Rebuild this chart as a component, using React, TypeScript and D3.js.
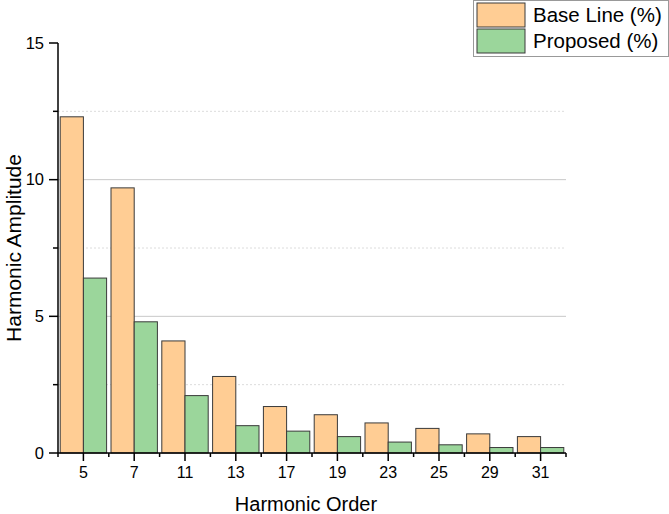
import { useEffect, useRef } from 'react';
import * as d3 from 'd3';

const orders = ['5', '7', '11', '13', '17', '19', '23', '25', '29', '31'];
const baseLine = [12.3, 9.7, 4.1, 2.8, 1.7, 1.4, 1.1, 0.9, 0.7, 0.6];
const proposed = [6.4, 4.8, 2.1, 1.0, 0.8, 0.6, 0.4, 0.3, 0.2, 0.2];
const seriesNames = ['Base Line (%)', 'Proposed (%)'];
const seriesColors = ['#ffcd94', '#9bd69b'];
const yMajor = [0, 5, 10, 15];
const yMinor = [2.5, 7.5, 12.5];

export default function App() {
  const svgRef = useRef<SVGSVGElement>(null);

  useEffect(() => {
    if (!svgRef.current) return;
    const svg = d3.select(svgRef.current);
    svg.selectAll('*').remove();

    const width = 669;
    const height = 514;
    const margin = { top: 43, right: 103, bottom: 61, left: 58 };
    const innerW = width - margin.left - margin.right;
    const innerH = height - margin.top - margin.bottom;
    const font = 'Arial, "Liberation Sans", sans-serif';

    const x = d3.scaleBand().domain(orders).range([0, innerW]).paddingInner(0).paddingOuter(0);
    const xs = d3.scaleBand().domain(seriesNames).range([0, x.bandwidth()]).paddingOuter(0.095).paddingInner(0);
    const y = d3.scaleLinear().domain([0, 15]).range([innerH, 0]);

    const g = svg.append('g').attr('transform', `translate(${margin.left},${margin.top})`);

    // grid
    g.selectAll('line.major')
      .data([5, 10])
      .join('line')
      .attr('x1', 0)
      .attr('x2', innerW)
      .attr('y1', d => y(d))
      .attr('y2', d => y(d))
      .attr('stroke', '#c8c8c8')
      .attr('stroke-width', 1);

    g.selectAll('line.minor')
      .data(yMinor)
      .join('line')
      .attr('x1', 0)
      .attr('x2', innerW)
      .attr('y1', d => y(d))
      .attr('y2', d => y(d))
      .attr('stroke', '#dcdcdc')
      .attr('stroke-width', 1)
      .attr('stroke-dasharray', '2,2');

    // bars
    const values = [baseLine, proposed];
    values.forEach((vals, si) => {
      g.append('g')
        .selectAll('rect')
        .data(vals)
        .join('rect')
        .attr('x', (_, i) => (x(orders[i]) ?? 0) + (xs(seriesNames[si]) ?? 0))
        .attr('y', d => y(d))
        .attr('width', xs.bandwidth())
        .attr('height', d => innerH - y(d))
        .attr('fill', seriesColors[si])
        .attr('stroke', '#3a3a3a')
        .attr('stroke-width', 1);
    });

    // x axis
    const xAxis = g.append('g').attr('transform', `translate(0,${innerH})`);
    xAxis.append('line')
      .attr('x1', 0).attr('x2', innerW)
      .attr('stroke', '#000').attr('stroke-width', 1.5);
    xAxis.selectAll('line.tick')
      .data(orders)
      .join('line')
      .attr('x1', d => (x(d) ?? 0) + x.bandwidth() / 2)
      .attr('x2', d => (x(d) ?? 0) + x.bandwidth() / 2)
      .attr('y1', 0).attr('y2', 8)
      .attr('stroke', '#000').attr('stroke-width', 1.5);
    xAxis.selectAll('line.mtick')
      .data(d3.range(orders.length + 1))
      .join('line')
      .attr('x1', i => i * x.step())
      .attr('x2', i => i * x.step())
      .attr('y1', 0).attr('y2', 4)
      .attr('stroke', '#000').attr('stroke-width', 1.5);
    xAxis.selectAll('text')
      .data(orders)
      .join('text')
      .attr('x', d => (x(d) ?? 0) + x.bandwidth() / 2)
      .attr('y', 25)
      .attr('text-anchor', 'middle')
      .attr('font-family', font)
      .attr('font-size', 16)
      .text(d => d);

    // y axis
    const yAxis = g.append('g');
    yAxis.append('line')
      .attr('y1', 0).attr('y2', innerH)
      .attr('stroke', '#000').attr('stroke-width', 1.5);
    yAxis.selectAll('line.tick')
      .data(yMajor)
      .join('line')
      .attr('x1', -9).attr('x2', 0)
      .attr('y1', d => y(d)).attr('y2', d => y(d))
      .attr('stroke', '#000').attr('stroke-width', 1.5);
    yAxis.selectAll('line.mtick')
      .data(yMinor)
      .join('line')
      .attr('x1', -5).attr('x2', 0)
      .attr('y1', d => y(d)).attr('y2', d => y(d))
      .attr('stroke', '#000').attr('stroke-width', 1.5);
    yAxis.selectAll('text')
      .data(yMajor)
      .join('text')
      .attr('x', -14)
      .attr('y', d => y(d))
      .attr('dy', '0.35em')
      .attr('text-anchor', 'end')
      .attr('font-family', font)
      .attr('font-size', 16.5)
      .text(d => d);

    // axis titles
    svg.append('text')
      .attr('x', 306)
      .attr('y', 511)
      .attr('text-anchor', 'middle')
      .attr('font-family', font)
      .attr('font-size', 20)
      .text('Harmonic Order');
    svg.append('text')
      .attr('transform', `translate(21,${margin.top + innerH / 2}) rotate(-90)`)
      .attr('text-anchor', 'middle')
      .attr('font-family', font)
      .attr('font-size', 21)
      .text('Harmonic Amplitude');

    // legend
    const lg = svg.append('g').attr('transform', 'translate(473,0)');
    lg.append('rect')
      .attr('x', 0.5).attr('y', 0.5)
      .attr('width', 195).attr('height', 56)
      .attr('fill', '#fff')
      .attr('stroke', '#999').attr('stroke-width', 1);
    seriesNames.forEach((name, i) => {
      lg.append('rect')
        .attr('x', 4).attr('y', 3 + i * 26)
        .attr('width', 48).attr('height', 24)
        .attr('fill', seriesColors[i])
        .attr('stroke', '#3a3a3a').attr('stroke-width', 1);
      lg.append('text')
        .attr('x', 60).attr('y', 15 + i * 26)
        .attr('dy', '0.35em')
        .attr('font-family', font)
        .attr('font-size', 20.5)
        .text(name);
    });
  }, []);

  return (
    <div style={{ position: 'fixed', left: 0, top: 0 }}>
      <svg ref={svgRef} width={669} height={514} style={{ display: 'block', background: '#fff' }} />
    </div>
  );
}
